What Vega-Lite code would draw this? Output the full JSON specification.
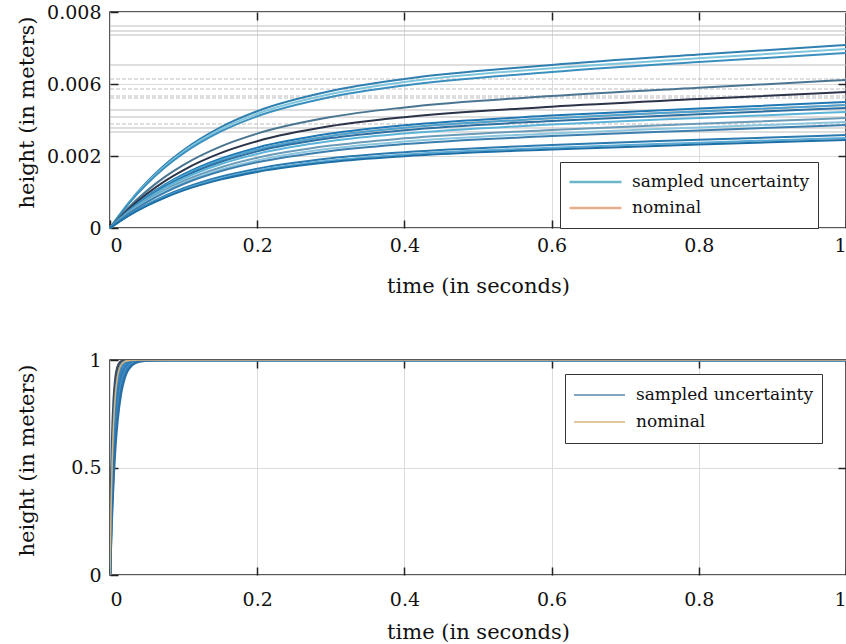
{
  "$schema": "https://vega.github.io/schema/vega-lite/v6.json",
  "autosize": "pad",
  "padding": {"left": 15, "top": 2, "right": 0, "bottom": 0},
  "background": "white",
  "spacing": 132,
  "bounds": "flush",
  "config": {
    "font": "DejaVu Serif",
    "view": {"stroke": "#222", "strokeWidth": 1.5},
    "axis": {
      "labelFont": "DejaVu Serif", "titleFont": "DejaVu Serif",
      "labelFontSize": 19, "titleFontSize": 21, "titleFontWeight": "normal",
      "labelColor": "#111", "titleColor": "#111",
      "tickColor": "#222", "tickWidth": 1.5, "tickSize": -8,
      "domain": false, "gridColor": "#dcdcdc", "gridWidth": 1
    },
    "legend": {"labelFont": "DejaVu Serif", "labelLimit": 400}
  },
  "resolve": {
    "scale": {"x": "independent", "y": "independent", "color": "independent", "stroke": "independent", "strokeDash": "independent"},
    "legend": {"color": "independent"}
  },
  "datasets": {
    "hl": [
      {"v": 0.007611, "style": "solid"}, {"v": 0.007472, "style": "solid"}, {"v": 0.007361, "style": "solid"},
      {"v": 0.006528, "style": "solid"}, {"v": 0.006139, "style": "dash"}, {"v": 0.005722, "style": "dash"},
      {"v": 0.005333, "style": "dash"}, {"v": 0.005222, "style": "dash"}, {"v": 0.004556, "style": "solid"},
      {"v": 0.004167, "style": "solid"}, {"v": 0.003778, "style": "dash"}, {"v": 0.003556, "style": "solid"},
      {"v": 0.003333, "style": "solid"}
    ],
    "top": [
      {"run":"c01","t":0,"v":0},{"run":"c01","t":0.025,"v":0.000694},{"run":"c01","t":0.05,"v":0.001278},{"run":"c01","t":0.075,"v":0.001764},{"run":"c01","t":0.1,"v":0.002333},{"run":"c01","t":0.15,"v":0.003589},{"run":"c01","t":0.2,"v":0.004489},{"run":"c01","t":0.3,"v":0.005611},{"run":"c01","t":0.4,"v":0.006139},{"run":"c01","t":0.6,"v":0.006528},{"run":"c01","t":0.8,"v":0.006819},{"run":"c01","t":1,"v":0.007083},
      {"run":"c02","t":0,"v":0},{"run":"c02","t":0.025,"v":0.000681},{"run":"c02","t":0.05,"v":0.00125},{"run":"c02","t":0.075,"v":0.001722},{"run":"c02","t":0.1,"v":0.002244},{"run":"c02","t":0.15,"v":0.003472},{"run":"c02","t":0.2,"v":0.004345},{"run":"c02","t":0.3,"v":0.005444},{"run":"c02","t":0.4,"v":0.006056},{"run":"c02","t":0.6,"v":0.006436},{"run":"c02","t":0.8,"v":0.006714},{"run":"c02","t":1,"v":0.006972},
      {"run":"c03","t":0,"v":0},{"run":"c03","t":0.025,"v":0.000667},{"run":"c03","t":0.05,"v":0.001222},{"run":"c03","t":0.075,"v":0.001686},{"run":"c03","t":0.1,"v":0.00215},{"run":"c03","t":0.15,"v":0.00335},{"run":"c03","t":0.2,"v":0.004206},{"run":"c03","t":0.3,"v":0.005278},{"run":"c03","t":0.4,"v":0.005922},{"run":"c03","t":0.6,"v":0.006333},{"run":"c03","t":0.8,"v":0.006611},{"run":"c03","t":1,"v":0.006861},
      {"run":"c04","t":0,"v":0},{"run":"c04","t":0.025,"v":0.000564},{"run":"c04","t":0.05,"v":0.001031},{"run":"c04","t":0.075,"v":0.001428},{"run":"c04","t":0.1,"v":0.001756},{"run":"c04","t":0.15,"v":0.002522},{"run":"c04","t":0.2,"v":0.003244},{"run":"c04","t":0.3,"v":0.004161},{"run":"c04","t":0.4,"v":0.0047},{"run":"c04","t":0.6,"v":0.005333},{"run":"c04","t":0.8,"v":0.005794},{"run":"c04","t":1,"v":0.006111},
      {"run":"c05","t":0,"v":0},{"run":"c05","t":0.025,"v":0.000517},{"run":"c05","t":0.05,"v":0.000947},{"run":"c05","t":0.075,"v":0.001311},{"run":"c05","t":0.1,"v":0.001611},{"run":"c05","t":0.15,"v":0.002156},{"run":"c05","t":0.2,"v":0.002822},{"run":"c05","t":0.3,"v":0.003661},{"run":"c05","t":0.4,"v":0.004156},{"run":"c05","t":0.6,"v":0.004739},{"run":"c05","t":0.8,"v":0.005161},{"run":"c05","t":1,"v":0.005556},
      {"run":"c06","t":0,"v":0},{"run":"c06","t":0.025,"v":0.000472},{"run":"c06","t":0.05,"v":0.000878},{"run":"c06","t":0.075,"v":0.001214},{"run":"c06","t":0.1,"v":0.001494},{"run":"c06","t":0.15,"v":0.001925},{"run":"c06","t":0.2,"v":0.002467},{"run":"c06","t":0.3,"v":0.003244},{"run":"c06","t":0.4,"v":0.003706},{"run":"c06","t":0.6,"v":0.004244},{"run":"c06","t":0.8,"v":0.004633},{"run":"c06","t":1,"v":0.005},
      {"run":"c07","t":0,"v":0},{"run":"c07","t":0.025,"v":0.000469},{"run":"c07","t":0.05,"v":0.000858},{"run":"c07","t":0.075,"v":0.001186},{"run":"c07","t":0.1,"v":0.001458},{"run":"c07","t":0.15,"v":0.001881},{"run":"c07","t":0.2,"v":0.002361},{"run":"c07","t":0.3,"v":0.003117},{"run":"c07","t":0.4,"v":0.003567},{"run":"c07","t":0.6,"v":0.004094},{"run":"c07","t":0.8,"v":0.004478},{"run":"c07","t":1,"v":0.004833},
      {"run":"c08","t":0,"v":0},{"run":"c08","t":0.025,"v":0.000456},{"run":"c08","t":0.05,"v":0.000836},{"run":"c08","t":0.075,"v":0.001156},{"run":"c08","t":0.1,"v":0.001422},{"run":"c08","t":0.15,"v":0.001833},{"run":"c08","t":0.2,"v":0.002256},{"run":"c08","t":0.3,"v":0.002994},{"run":"c08","t":0.4,"v":0.003433},{"run":"c08","t":0.6,"v":0.003944},{"run":"c08","t":0.8,"v":0.004322},{"run":"c08","t":1,"v":0.004667},
      {"run":"c09","t":0,"v":0},{"run":"c09","t":0.025,"v":0.000442},{"run":"c09","t":0.05,"v":0.000808},{"run":"c09","t":0.075,"v":0.00112},{"run":"c09","t":0.1,"v":0.001375},{"run":"c09","t":0.15,"v":0.001772},{"run":"c09","t":0.2,"v":0.002111},{"run":"c09","t":0.3,"v":0.002828},{"run":"c09","t":0.4,"v":0.00325},{"run":"c09","t":0.6,"v":0.00375},{"run":"c09","t":0.8,"v":0.004111},{"run":"c09","t":1,"v":0.004444},
      {"run":"c10","t":0,"v":0},{"run":"c10","t":0.025,"v":0.000419},{"run":"c10","t":0.05,"v":0.000767},{"run":"c10","t":0.075,"v":0.001061},{"run":"c10","t":0.1,"v":0.001306},{"run":"c10","t":0.15,"v":0.001681},{"run":"c10","t":0.2,"v":0.00195},{"run":"c10","t":0.3,"v":0.002578},{"run":"c10","t":0.4,"v":0.002983},{"run":"c10","t":0.6,"v":0.00345},{"run":"c10","t":0.8,"v":0.003794},{"run":"c10","t":1,"v":0.004111},
      {"run":"c11","t":0,"v":0},{"run":"c11","t":0.025,"v":0.000403},{"run":"c11","t":0.05,"v":0.000739},{"run":"c11","t":0.075,"v":0.001022},{"run":"c11","t":0.1,"v":0.001258},{"run":"c11","t":0.15,"v":0.00162},{"run":"c11","t":0.2,"v":0.001878},{"run":"c11","t":0.3,"v":0.002411},{"run":"c11","t":0.4,"v":0.0028},{"run":"c11","t":0.6,"v":0.003256},{"run":"c11","t":0.8,"v":0.003583},{"run":"c11","t":1,"v":0.003889},
      {"run":"c12","t":0,"v":0},{"run":"c12","t":0.025,"v":0.000392},{"run":"c12","t":0.05,"v":0.000719},{"run":"c12","t":0.075,"v":0.000992},{"run":"c12","t":0.1,"v":0.001222},{"run":"c12","t":0.15,"v":0.001575},{"run":"c12","t":0.2,"v":0.001825},{"run":"c12","t":0.3,"v":0.002283},{"run":"c12","t":0.4,"v":0.002661},{"run":"c12","t":0.6,"v":0.003106},{"run":"c12","t":0.8,"v":0.003422},{"run":"c12","t":1,"v":0.003722},
      {"run":"c13","t":0,"v":0},{"run":"c13","t":0.025,"v":0.000353},{"run":"c13","t":0.05,"v":0.000647},{"run":"c13","t":0.075,"v":0.000897},{"run":"c13","t":0.1,"v":0.001103},{"run":"c13","t":0.15,"v":0.001422},{"run":"c13","t":0.2,"v":0.001647},{"run":"c13","t":0.3,"v":0.001936},{"run":"c13","t":0.4,"v":0.002211},{"run":"c13","t":0.6,"v":0.002611},{"run":"c13","t":0.8,"v":0.0029},{"run":"c13","t":1,"v":0.003167},
      {"run":"c14","t":0,"v":0},{"run":"c14","t":0.025,"v":0.000342},{"run":"c14","t":0.05,"v":0.000628},{"run":"c14","t":0.075,"v":0.000867},{"run":"c14","t":0.1,"v":0.001067},{"run":"c14","t":0.15,"v":0.001375},{"run":"c14","t":0.2,"v":0.001594},{"run":"c14","t":0.3,"v":0.001872},{"run":"c14","t":0.4,"v":0.002078},{"run":"c14","t":0.6,"v":0.002461},{"run":"c14","t":0.8,"v":0.002739},{"run":"c14","t":1,"v":0.003},
      {"run":"c15","t":0,"v":0},{"run":"c15","t":0.025,"v":0.000336},{"run":"c15","t":0.05,"v":0.000614},{"run":"c15","t":0.075,"v":0.000847},{"run":"c15","t":0.1,"v":0.001044},{"run":"c15","t":0.15,"v":0.001344},{"run":"c15","t":0.2,"v":0.001558},{"run":"c15","t":0.3,"v":0.001831},{"run":"c15","t":0.4,"v":0.001992},{"run":"c15","t":0.6,"v":0.002361},{"run":"c15","t":0.8,"v":0.002633},{"run":"c15","t":1,"v":0.002889}
    ],
    "bot": [
      {"run":"b1","t":0,"v":0},{"run":"b1","t":0.0015,"v":0.3935},{"run":"b1","t":0.003,"v":0.6321},{"run":"b1","t":0.005,"v":0.8111},{"run":"b1","t":0.0075,"v":0.9179},{"run":"b1","t":0.01,"v":0.9643},{"run":"b1","t":0.015,"v":0.9933},{"run":"b1","t":0.02,"v":0.9987},{"run":"b1","t":0.03,"v":1},{"run":"b1","t":0.04,"v":1},{"run":"b1","t":0.06,"v":1},{"run":"b1","t":0.1,"v":1},{"run":"b1","t":1,"v":1},
      {"run":"b2","t":0,"v":0},{"run":"b2","t":0.0015,"v":0.3127},{"run":"b2","t":0.003,"v":0.5276},{"run":"b2","t":0.005,"v":0.7135},{"run":"b2","t":0.0075,"v":0.8466},{"run":"b2","t":0.01,"v":0.9179},{"run":"b2","t":0.015,"v":0.9765},{"run":"b2","t":0.02,"v":0.9933},{"run":"b2","t":0.03,"v":0.9994},{"run":"b2","t":0.04,"v":1},{"run":"b2","t":0.06,"v":1},{"run":"b2","t":0.1,"v":1},{"run":"b2","t":1,"v":1},
      {"run":"b3","t":0,"v":0},{"run":"b3","t":0.0015,"v":0.2592},{"run":"b3","t":0.003,"v":0.4512},{"run":"b3","t":0.005,"v":0.6321},{"run":"b3","t":0.0075,"v":0.7769},{"run":"b3","t":0.01,"v":0.8647},{"run":"b3","t":0.015,"v":0.9502},{"run":"b3","t":0.02,"v":0.9817},{"run":"b3","t":0.03,"v":0.9975},{"run":"b3","t":0.04,"v":0.9997},{"run":"b3","t":0.06,"v":1},{"run":"b3","t":0.1,"v":1},{"run":"b3","t":1,"v":1},
      {"run":"b4","t":0,"v":0},{"run":"b4","t":0.0015,"v":0.2212},{"run":"b4","t":0.003,"v":0.3935},{"run":"b4","t":0.005,"v":0.5654},{"run":"b4","t":0.0075,"v":0.7135},{"run":"b4","t":0.01,"v":0.8111},{"run":"b4","t":0.015,"v":0.9179},{"run":"b4","t":0.02,"v":0.9643},{"run":"b4","t":0.03,"v":0.9933},{"run":"b4","t":0.04,"v":0.9987},{"run":"b4","t":0.06,"v":1},{"run":"b4","t":0.1,"v":1},{"run":"b4","t":1,"v":1},
      {"run":"b5","t":0,"v":0},{"run":"b5","t":0.0015,"v":0.1929},{"run":"b5","t":0.003,"v":0.3486},{"run":"b5","t":0.005,"v":0.5105},{"run":"b5","t":0.0075,"v":0.6575},{"run":"b5","t":0.01,"v":0.7603},{"run":"b5","t":0.015,"v":0.8827},{"run":"b5","t":0.02,"v":0.9426},{"run":"b5","t":0.03,"v":0.9862},{"run":"b5","t":0.04,"v":0.9967},{"run":"b5","t":0.06,"v":0.9998},{"run":"b5","t":0.1,"v":1},{"run":"b5","t":1,"v":1},
      {"run":"b6","t":0,"v":0},{"run":"b6","t":0.0015,"v":0.171},{"run":"b6","t":0.003,"v":0.3127},{"run":"b6","t":0.005,"v":0.4647},{"run":"b6","t":0.0075,"v":0.6084},{"run":"b6","t":0.01,"v":0.7135},{"run":"b6","t":0.015,"v":0.8466},{"run":"b6","t":0.02,"v":0.9179},{"run":"b6","t":0.03,"v":0.9765},{"run":"b6","t":0.04,"v":0.9933},{"run":"b6","t":0.06,"v":0.9994},{"run":"b6","t":0.1,"v":1},{"run":"b6","t":1,"v":1}
    ]
  },
  "vconcat": [
    {
      "width": 736,
      "height": 216,
      "resolve": {"axis": {"x": "independent", "y": "independent"}},
      "layer": [
        {
          "data": {"name": "hl"},
          "mark": {"type": "rule", "color": "#bdbdbd", "strokeWidth": 1},
          "encoding": {
            "y": {"field": "v", "type": "quantitative",
              "scale": {"domain": [0, 0.002, 0.006, 0.008], "range": [216, 144, 72, 0], "nice": false, "zero": false},
              "axis": null},
            "strokeDash": {"field": "style", "type": "nominal", "scale": {"domain": ["solid", "dash"], "range": [[1, 0], [4, 2]]}, "legend": null}
          }
        },
        {
          "data": {"name": "top"},
          "transform": [{"filter": "datum.run == 'c07'"}],
          "mark": {"type": "line", "strokeWidth": 2, "interpolate": "monotone"},
          "encoding": {
            "x": {"field": "t", "type": "quantitative", "scale": {"domain": [0, 1], "nice": false},
              "axis": {"orient": "bottom", "values": [0, 0.2, 0.4, 0.6, 0.8, 1], "format": "~g", "title": "time (in seconds)", "labelPadding": 16, "titleY": 58, "titleBaseline": "middle", "grid": true}},
            "y": {"field": "v", "type": "quantitative",
              "axis": {"orient": "left", "values": [0, 0.002, 0.006, 0.008], "format": "~g", "title": "height (in meters)", "labelPadding": 17, "titleX": -83, "titleY": 100, "titleAngle": -90, "titleBaseline": "middle", "titleAlign": "center", "grid": true}},
            "color": {"datum": "nominal", "type": "nominal",
              "scale": {"domain": ["sampled uncertainty", "nominal"], "range": ["#6bb6c9", "#e8ad8c"]},
              "legend": {"orient": "none", "legendX": 450, "legendY": 150, "title": null, "symbolType": "stroke", "symbolSize": 2700, "symbolStrokeWidth": 2.5, "labelFontSize": 17, "labelColor": "#111", "strokeColor": "#333", "fillColor": "#ffffff", "padding": 8, "clipHeight": 24, "rowPadding": 2, "labelOffset": 9}}
          }
        },
        {
          "data": {"name": "top"},
          "mark": {"type": "line", "strokeWidth": 2, "interpolate": "monotone"},
          "encoding": {
            "x": {"field": "t", "type": "quantitative",
              "axis": {"orient": "top", "values": [0.2, 0.4, 0.6, 0.8], "labels": false, "title": null, "grid": false}},
            "y": {"field": "v", "type": "quantitative",
              "axis": {"orient": "right", "values": [0.002, 0.006], "labels": false, "title": null, "grid": false}},
            "stroke": {"field": "run", "type": "nominal", "legend": null,
              "scale": {"range": ["#2f7fb0", "#7fc6dc", "#3a8fbe", "#4a7590", "#2a3348", "#1f78b4", "#4aa3d0", "#2b6fa3", "#5bb3d8", "#6a9bb8", "#8cc6de", "#3c7fae", "#2a7ab0", "#5aaad4", "#1d6fa6"]}}
          }
        }
      ]
    },
    {
      "width": 736,
      "height": 215,
      "resolve": {"axis": {"x": "independent", "y": "independent"}},
      "layer": [
        {
          "data": {"name": "bot"},
          "mark": {"type": "line", "strokeWidth": 2.5, "interpolate": "monotone", "clip": true},
          "encoding": {
            "x": {"field": "t", "type": "quantitative", "scale": {"domain": [0, 1], "nice": false},
              "axis": {"orient": "bottom", "values": [0, 0.2, 0.4, 0.6, 0.8, 1], "format": "~g", "title": "time (in seconds)", "labelPadding": 23, "titleY": 57, "titleBaseline": "middle", "grid": true}},
            "y": {"field": "v", "type": "quantitative", "scale": {"domain": [0, 1], "nice": false},
              "axis": {"orient": "left", "values": [0, 0.5, 1], "format": "~g", "title": "height (in meters)", "labelPadding": 17, "titleX": -83, "titleY": 100, "titleAngle": -90, "titleBaseline": "middle", "titleAlign": "center", "grid": true}},
            "stroke": {"field": "run", "type": "nominal", "legend": null,
              "scale": {"range": ["#3c4a5c", "#2c6e9e", "#3a86bd", "#2f7ab5", "#3b8ac2", "#2a6fa6"]}}
          }
        },
        {
          "data": {"name": "bot"},
          "transform": [{"filter": "datum.run == 'b2'"}],
          "mark": {"type": "line", "strokeWidth": 1.5, "interpolate": "monotone", "clip": true},
          "encoding": {
            "x": {"field": "t", "type": "quantitative",
              "axis": {"orient": "top", "values": [0.2, 0.4, 0.6, 0.8], "labels": false, "title": null, "grid": false}},
            "y": {"field": "v", "type": "quantitative",
              "axis": {"orient": "right", "values": [0.5], "labels": false, "title": null, "grid": false}},
            "color": {"datum": "nominal", "type": "nominal",
              "scale": {"domain": ["sampled uncertainty", "nominal"], "range": ["#5b87ad", "#d6b47e"]},
              "legend": {"orient": "none", "legendX": 455, "legendY": 14, "title": null, "symbolType": "stroke", "symbolSize": 2600, "symbolStrokeWidth": 1.5, "labelFontSize": 17, "labelColor": "#111", "strokeColor": "#333", "fillColor": "#ffffff", "padding": 8, "clipHeight": 26, "rowPadding": 1, "labelOffset": 10}}
          }
        }
      ]
    }
  ]
}
